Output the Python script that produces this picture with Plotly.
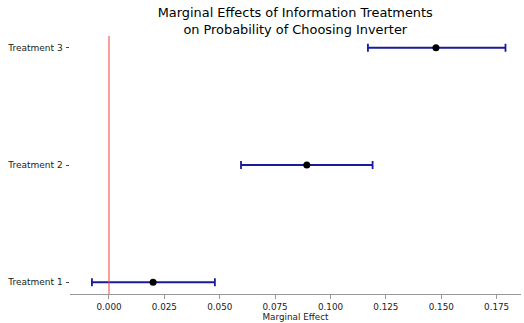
import plotly.graph_objects as go

treatments = ["Treatment 1", "Treatment 2", "Treatment 3"]
effects = [0.0199, 0.0893, 0.1476]
ci_low = [-0.0077, 0.0596, 0.1169]
ci_high = [0.0478, 0.1190, 0.1790]
x_ticks = [0.0, 0.025, 0.05, 0.075, 0.1, 0.125, 0.15, 0.175]

ypos = list(range(len(treatments)))
err_plus = [h - e for h, e in zip(ci_high, effects)]
err_minus = [e - l for e, l in zip(effects, ci_low)]

fig = go.Figure()
fig.add_trace(go.Scatter(
    x=effects, y=ypos, mode="markers",
    marker=dict(color="black", size=7),
    error_x=dict(type="data", symmetric=False, array=err_plus, arrayminus=err_minus,
                 color="#1a1a9a", thickness=1.8, width=4),
    showlegend=False,
))
fig.add_vline(x=0, line=dict(color="#f04040", width=1))

fig.update_layout(
    width=524, height=323,
    margin=dict(l=70, r=3, t=36, b=27),
    paper_bgcolor="white", plot_bgcolor="white",
    font=dict(family="DejaVu Sans", color="black"),
    title=dict(text="Marginal Effects of Information Treatments<br>on Probability of Choosing Inverter",
               x=0.5635, xanchor="center", y=0.947, yanchor="top",
               font=dict(size=12.9, color="black")),
)
fig.update_xaxes(
    range=[-0.0176, 0.186], tickvals=x_ticks,
    ticktext=[f"{v:.3f}" for v in x_ticks],
    showgrid=False, zeroline=False,
    showline=True, linecolor="#999999", linewidth=1.2,
    ticks="outside", ticklen=4, tickcolor="#999999",
    tickfont=dict(size=8.8, color="#222222"),
    title=dict(text="Marginal Effect", font=dict(size=8.8, color="#222222"), standoff=2),
)
fig.update_yaxes(
    range=[-0.1, 2.1], tickvals=ypos, ticktext=treatments,
    showgrid=False, zeroline=False, showline=False,
    ticks="outside", ticklen=3.5, tickcolor="#444444", ticklabelstandoff=1,
    tickfont=dict(size=9, color="#222222"),
)

fig.write_html("out.html", config={"displayModeBar": False},
               post_script="document.body.style.margin='0';document.body.style.overflow='hidden';")
